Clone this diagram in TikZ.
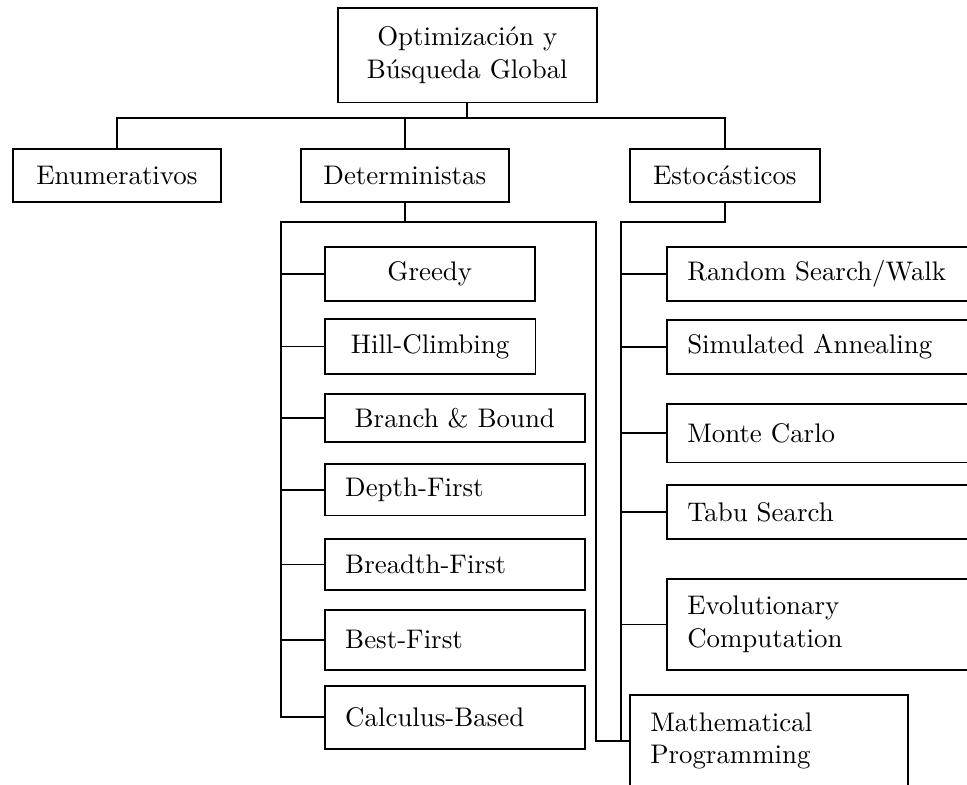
\documentclass[tikz,border=0pt]{standalone}
\usetikzlibrary{calc}

\begin{document}
\begin{tikzpicture}[x=0.372pt,y=-0.372pt,line width=0.6pt,
    box/.style={draw,rectangle,inner sep=0pt,anchor=north west,align=center},
    lbox/.style={box,align=left,inner xsep=7.6pt,text width=#1}]
            \useasboundingbox (0,0) rectangle (967,785);

            \node[box,minimum width=96.3pt,minimum height=35.3pt] (opt) at (337,7) {
                Optimización y \\
                Búsqueda Global
            };

            \node[box,minimum width=77.4pt,minimum height=19.7pt] (enum) at (12,148) {Enumerativos};
            \node[box,minimum width=77.4pt,minimum height=19.7pt] (det) at (300,148) {Deterministas};
            \node[box,minimum width=70.7pt,minimum height=19.7pt] (est) at (629,148) {Estocásticos};

            \node[box,minimum width=78.1pt,minimum height=20.1pt] (greedy) at (324,246) {Greedy};
            \node[box,minimum width=78.3pt,minimum height=20.5pt] (hill) at (324,318) {Hill-Climbing};
            \node[box,minimum width=96.7pt,minimum height=17.9pt] (branch) at (324,393) {Branch \& Bound};
            \node[lbox=81.5pt,minimum height=19.3pt] (depth) at (324,463) {Depth-First};
            \node[lbox=81.5pt,minimum height=19.0pt] (breadth) at (324,538) {Breadth-First};
            \node[lbox=81.5pt,minimum height=22.3pt] (best) at (324,609) {Best-First};
            \node[lbox=81.5pt,minimum height=23.4pt] (calc) at (324,685) {Calculus-Based};

            \node[lbox=105.3pt,minimum height=20.1pt] (rand) at (666,246) {Random Search/Walk};
            \node[lbox=105.3pt,minimum height=20.1pt] (sim) at (666,319) {Simulated Annealing};
            \node[lbox=105.3pt,minimum height=21.9pt] (monte) at (666,403) {Monte Carlo};
            \node[lbox=105.3pt,minimum height=20.1pt] (tabu) at (666,484) {Tabu Search};
            \node[lbox=105.3pt,minimum height=33.9pt] (evol) at (666,578) {
                Evolutionary \\
                Computation
            };
            \node[lbox=88.2pt,minimum height=34.2pt] (math) at (629,694) {
                Mathematical \\
                Programming
            };

            \draw (opt.south) -- ++(0,16);
            \draw (enum.north) -- ++(0,-30) -| (est.north);
            \draw (det.north) -- ++(0,-30);

            \coordinate (dl) at (281,222);
            \coordinate (dr) at (596,222);
            \coordinate (el) at (621,222);

            \draw (det.south) -- (det.south |- dl);
            \draw (calc.west) -| (dl) -- (dr) |- (math.west);
            \foreach \n in {greedy,hill,branch,depth,breadth,best}
                \draw (\n.west) -- (\n.west -| dl);

            \draw (est.south) |- (el) -- (el |- math.west);
            \foreach \n in {rand,sim,monte,tabu,evol}
                \draw (\n.west) -- (\n.west -| el);
        \end{tikzpicture}
\end{document}
